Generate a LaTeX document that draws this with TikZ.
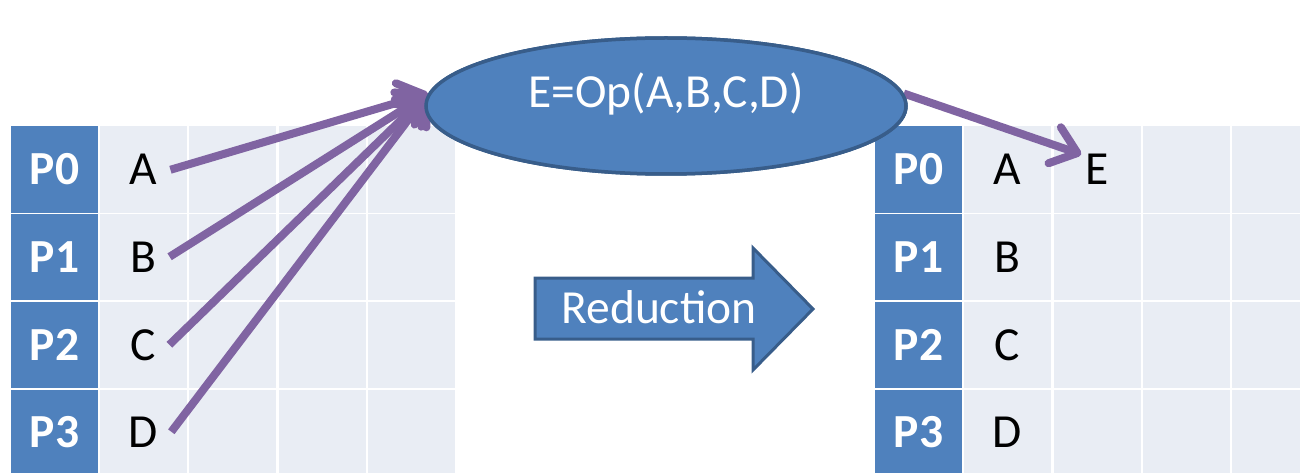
\documentclass[tikz,border=0pt]{standalone}
\usepackage{fontspec}
\setmainfont{Carlito}
\usetikzlibrary{shapes.geometric,arrows.meta,calc}
\definecolor{cellblue}{HTML}{4F81BD}
\definecolor{edgeblue}{HTML}{385D8A}
\definecolor{celllight}{HTML}{E9EDF4}
\definecolor{linkpurple}{HTML}{8064A2}

\begin{document}
\begin{tikzpicture}[x=1pt,y=-1pt,
  cell/.style={rectangle, fill=celllight, minimum width=87pt, minimum height=86pt, inner sep=0pt},
  rankcell/.style={cell, fill=cellblue},
  letter/.style={font=\fontsize{47.5}{56}\selectfont, anchor=base, inner sep=0pt, text=black},
  rank/.style={font=\fontsize{47.5}{56}\selectfont\bfseries, anchor=base, inner sep=0pt, text=white},
  whitetext/.style={font=\fontsize{47.5}{56}\selectfont, anchor=base, inner sep=0pt, text=white},
  link/.style={draw=linkpurple, line width=8pt, -{Straight Barb[length=24pt,width=38pt,round]}},
  opnode/.style={ellipse, fill=cellblue, draw=edgeblue, line width=3.5pt, minimum width=480pt, minimum height=136pt, inner sep=0pt},
  bigarrow/.style={fill=cellblue, draw=edgeblue, line width=3pt, line join=miter},
]
\useasboundingbox (0,0) rectangle (1300,473);
\clip (0,0) rectangle (1300,473);

% process rows: rank label, data cells and the value held by each rank
\foreach \r/\y/\b/\t in {0/169.5/185/A,1/257/272/B,2/345/360/C,3/433/447/D}{
  % before the reduction
  \node[rankcell] (lp\r) at (54.5,\y) {};
  \node[rank] (lpt\r) at (54.5,\b) {P\r};
  \foreach \c/\x in {1/143.5,2/232.8,3/322.1,4/411.4}
    \node[cell] (lc\r\c) at (\x,\y) {};
  \node[letter] (\t) at (143.5,\b) {\t};
  % after the reduction
  \node[rankcell] (rp\r) at (918.5,\y) {};
  \node[rank] (rpt\r) at (918.5,\b) {P\r};
  \foreach \c/\x in {1/1007.5,2/1097,3/1186,4/1275.5}
    \node[cell] (rc\r\c) at (\x,\y) {};
  \node[letter] (r\t) at (1007.5,\b) {\t};
}
\node[letter] (E) at (1097,185) {E};

% reduction operator
\node[opnode] (op) at (666,106) {};

% inputs gathered into the operator
\foreach \t in {A,B,C,D}
  \draw[link] ([xshift=13pt]\t.east) -- (op.177);
% result delivered to rank 0
\draw[link] (op.3) -- ([xshift=-4pt]E.north west);

% redraw the operator on top of the connector ends
\node[opnode] (opface) at (666,106) {};
\node[whitetext] (optext) at (666,108) {E=Op(A,B,C,D)};

% block arrow between the two states
\draw[bigarrow] (535,278) -- (753,278) -- (753,248) -- (813,309) -- (753,370) -- (753,339) -- (535,339) -- cycle;
\node[whitetext] (redtext) at (659,323) {Reduction};
\end{tikzpicture}
\end{document}
